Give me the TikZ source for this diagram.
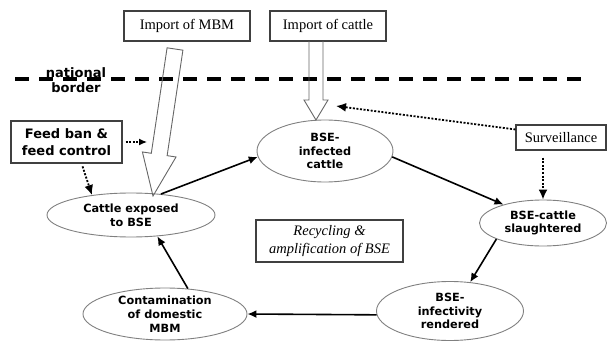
\documentclass[tikz,border=0pt]{standalone}
\usepackage{fontspec}
\setmainfont{Liberation Serif}
\newfontfamily\lblfont{DejaVu Sans}
\usetikzlibrary{arrows.meta,shapes.geometric,calc}
\begin{document}
\begin{tikzpicture}[x=1pt,y=-1pt,
  ell/.style={ellipse,draw=black!50,line width=0.9pt,inner sep=0pt,align=center,
    font=\lblfont\bfseries\fontsize{11.3}{13.8}\selectfont},
  sbox/.style={rectangle,draw=black!75,line width=1.1pt,inner sep=0pt,align=center,
    font=\fontsize{14.5}{18}\selectfont},
  flow/.style={-{Latex[length=9pt,width=8pt]},line width=1.6pt},
  dotflow/.style={-{Latex[length=10pt,width=9pt]},line width=1.8pt,dash pattern=on 2pt off 1.6pt},
  hollow/.style={draw=black!60,line width=0.9pt,line join=miter},
  border/.style={line width=4pt,dash pattern=on 14pt off 10pt}]
\useasboundingbox (0,0) rectangle (608,345);

% national border
\coordinate (bl) at (15,79);
\coordinate (br) at (584,79);
\draw[border] (bl) -- (br);
\node[font=\lblfont\bfseries\fontsize{13}{15.5}\selectfont,align=center,inner sep=0pt] (nb) at (76,80) {national\\border};

% boxes
\node[sbox,minimum width=126pt,minimum height=30pt] (mbm) at (187,26) {Import of MBM};
\node[sbox,minimum width=116pt,minimum height=30pt] (cim) at (328,26) {Import of cattle};
\node[sbox,minimum width=90pt,minimum height=25pt] (surv) at (561,137.5) {Surveillance};
\node[sbox,minimum width=147pt,minimum height=42pt,font=\itshape\fontsize{14.5}{18}\selectfont] (rec) at (329.5,241) {Recycling \&\\amplification of BSE};
\node[sbox,minimum width=111pt,minimum height=42pt,font=\lblfont\bfseries\fontsize{13}{17}\selectfont] (feed) at (66.5,142) {Feed ban \&\\feed control};

% ellipses
\node[ell,minimum width=136pt,minimum height=62pt] (inf) at (325,151) {BSE-\\infected\\cattle};
\node[ell,minimum width=168pt,minimum height=44pt] (exp) at (131,215) {Cattle exposed\\to BSE};
\node[ell,minimum width=127pt,minimum height=46pt] (sla) at (543,223) {BSE-cattle\\slaughtered};
\node[ell,minimum width=147pt,minimum height=59pt] (ren) at (450,311) {BSE-\\infectivity\\rendered};
\node[ell,minimum width=164pt,minimum height=52pt] (con) at (165,314) {Contamination\\of domestic\\MBM};

% hollow arrow: import of MBM
\coordinate (mt) at (175,49);
\coordinate (mp) at (153,196);
\coordinate (mh) at ($(mp)!42pt!(mt)$);
\draw[hollow] ($(mt)!8pt!-90:(mp)$) -- ($(mh)!8pt!90:(mt)$) -- ($(mh)!17pt!90:(mt)$)
  -- (mp) -- ($(mh)!17pt!-90:(mt)$) -- ($(mh)!8pt!-90:(mt)$) -- ($(mt)!8pt!90:(mp)$) -- cycle;

% hollow arrow: import of cattle
\coordinate (ct) at (316,41);
\coordinate (cp) at (316,120);
\draw[hollow] ($(ct)+(-7,0)$) -- ($(cp)+(-7,-20)$) -- ($(cp)+(-12,-20)$) -- (cp)
  -- ($(cp)+(12,-20)$) -- ($(cp)+(7,-20)$) -- ($(ct)+(7,0)$);

% cycle arrows
\draw[flow] (exp.35) -- (inf.185);
\draw[flow] (inf.355) -- (sla.155);
\draw[flow] (sla.199) -- (ren.55);
\draw[flow] (ren.183) -- (con.east);
\draw[flow] (con.48) -- (exp.321);

% control arrows
\coordinate (stip) at (336,106);
\draw[dotflow] (surv.170) -- (stip);
\draw[dotflow,shorten <=7pt] (sla.north |- surv.south) -- (sla.north);
\coordinate (mside) at (147,142);
\draw[dotflow,line width=1.2pt,-{Latex[length=8pt,width=7pt]},shorten <=3pt] (feed.east) -- (mside);
\draw[dotflow,shorten <=3pt] (feed.-55) -- (exp.153);
\end{tikzpicture}
\end{document}
